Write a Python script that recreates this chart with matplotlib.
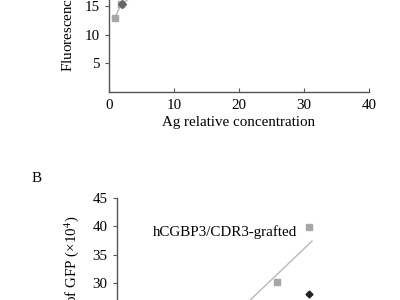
import matplotlib
matplotlib.use("Agg")
import matplotlib.pyplot as plt

# panel A (only its lower part is visible)
a_conc = [0.9, 1.85, 4.0]
a_grafted = [12.9, 15.3, 16.9]
a_dark_x = [1.95]
a_dark_y = [15.4]

# panel B (only its upper part is visible)
b_conc = [24.6, 29.5]
b_grafted = [30.2, 39.9]
b_dark_x = [29.5]
b_dark_y = [28.1]
b_fit_x = [15.0, 30.0]
b_fit_y = [21.0, 37.4]

x_ticks = [0, 10, 20, 30, 40]
a_yticks = [5, 10, 15]
b_yticks = [30, 35, 40, 45]

plt.rcParams["font.family"] = ["Liberation Serif", "DejaVu Serif"]
plt.rcParams["mathtext.fontset"] = "stix"
plt.rcParams["font.size"] = 10.8

GRAY = "#a6a6a6"
LINE = "#b8b8b8"
AXC = "#555555"


def style(ax):
    for s in ("top", "right"):
        ax.spines[s].set_visible(False)
    for s in ("left", "bottom"):
        ax.spines[s].set_color(AXC)
        ax.spines[s].set_linewidth(1.0)
    ax.tick_params(axis="y", direction="out", length=3, color=AXC, pad=4)
    ax.tick_params(axis="x", direction="in", length=3, color=AXC, pad=5)


fig = plt.figure(figsize=(4, 3), dpi=100)

# top panel
ax1 = fig.add_axes([0.2725, 0.6933, 0.65, 0.3822])
ax1.plot(a_conc, a_grafted, color=LINE, lw=1.0, marker="s", ms=5,
         mfc=GRAY, mec=GRAY)
ax1.plot(a_dark_x, a_dark_y, ls="none", marker="D", ms=4, color="#666666")
ax1.set_xlim(0, 40)
ax1.set_ylim(0, 20)
ax1.set_xticks(x_ticks)
ax1.set_yticks(a_yticks)
ax1.set_xlabel("Ag relative concentration", labelpad=3)
style(ax1)

fig.text(68 / 400, 1 - 72 / 300, "Fluorescence intensity of GFP (×10$^4$)",
         rotation=90, ha="center", va="bottom")

# bottom panel
fig.text(37 / 400, 1 - 178 / 300, "B", ha="center", va="center")
ax2 = fig.add_axes([0.2925, 1 - 339.7 / 300, 0.65, 0.4722])
ax2.plot(b_fit_x, b_fit_y, color=LINE, lw=1.0)
ax2.plot(b_conc, b_grafted, ls="none", marker="s", ms=5, mfc=GRAY, mec=GRAY)
ax2.plot(b_dark_x, b_dark_y, ls="none", marker="D", ms=3.5, color="#222222")
ax2.text(16.6, 39.0, "hCGBP3/CDR3-grafted", ha="center", va="center")
ax2.set_xlim(0, 40)
ax2.set_ylim(20, 45)
ax2.set_yticks(b_yticks)
ax2.set_xticks([])
style(ax2)

fig.text(72 / 400, 1 - 215 / 300, "Fluorescence intensity of GFP (×10$^4$)",
         rotation=90, ha="center", va="top")

fig.savefig("out.png", dpi=100)
